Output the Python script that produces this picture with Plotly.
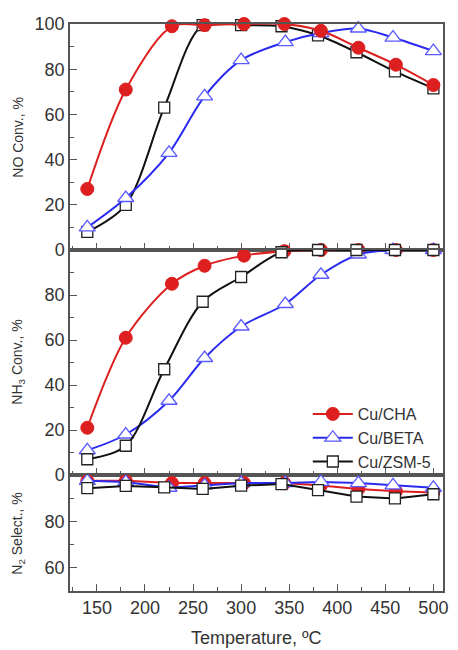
import plotly.graph_objects as go

# ---------------- data ----------------
temp_cha = [140, 180, 228, 262, 303, 345, 383, 422, 461, 500]
temp_beta = [140, 180, 225, 262, 300, 346, 383, 422, 458, 500]
temp_zsm = [140, 180, 220, 260, 300, 342, 380, 420, 460, 500]

no_cha = [27, 71, 99, 99.5, 100, 100, 97, 89.5, 82, 73]
no_beta = [10, 23, 43, 68, 84, 92, 96, 98, 94, 88]
no_zsm = [8, 20, 63, 99.5, 99.5, 99, 95, 87.5, 79, 71.5]

nh3_cha = [21, 61, 85, 93, 97.5, 99.5, 100, 100, 100, 100]
nh3_beta = [11, 18, 33, 52, 66, 76, 89, 98, 100, 100]
nh3_zsm = [7, 13, 47, 77, 88, 99, 100, 100, 100, 100]

n2_cha = [97.5, 97.5, 96.5, 96.5, 96.5, 96.5, 95.5, 94, 93, 92.5]
n2_beta = [97.5, 97, 94.5, 95.5, 96.5, 96.5, 97, 96.5, 95.5, 94.5]
n2_zsm = [94.3, 95.3, 94.7, 94, 95.4, 96.1, 93.5, 90.7, 89.9, 91.7]

names = ["Cu/CHA", "Cu/BETA", "Cu/ZSM-5"]
x_ticks = [150, 200, 250, 300, 350, 400, 450, 500]
y1_ticks = [0, 20, 40, 60, 80, 100]
y2_ticks = [0, 20, 40, 60, 80]
y3_ticks = [60, 80]

# ---------------- styles ----------------
RED = "#dd1f1f"
BLUE = "#2a2af0"
BLACK = "#111111"
FONT = "Arial, Liberation Sans, sans-serif"
TXT = "#333333"
AX = "#555555"

styles = {
    "Cu/CHA": dict(line=dict(color=RED, width=2),
                   marker=dict(symbol="circle", size=13, color=RED,
                               line=dict(color=RED, width=1))),
    "Cu/BETA": dict(line=dict(color=BLUE, width=2),
                    marker=dict(symbol="triangle-up", size=14, color="white",
                                line=dict(color="#5a5aff", width=1.3))),
    "Cu/ZSM-5": dict(line=dict(color=BLACK, width=2),
                     marker=dict(symbol="square", size=11, color="white",
                                 line=dict(color="#222222", width=1.3))),
}
xs = {"Cu/CHA": temp_cha, "Cu/BETA": temp_beta, "Cu/ZSM-5": temp_zsm}
rank = {"Cu/CHA": 1, "Cu/BETA": 2, "Cu/ZSM-5": 3}

panels = [
    ("y", {"Cu/CHA": no_cha, "Cu/BETA": no_beta, "Cu/ZSM-5": no_zsm},
     ["Cu/ZSM-5", "Cu/BETA", "Cu/CHA"], "spline", False),
    ("y2", {"Cu/CHA": nh3_cha, "Cu/BETA": nh3_beta, "Cu/ZSM-5": nh3_zsm},
     ["Cu/CHA", "Cu/BETA", "Cu/ZSM-5"], "spline", True),
    ("y3", {"Cu/CHA": n2_cha, "Cu/BETA": n2_beta, "Cu/ZSM-5": n2_zsm},
     ["Cu/CHA", "Cu/BETA", "Cu/ZSM-5"], "linear", False),
]

fig = go.Figure()
for yref, data, order, shape, show in panels:
    xref = "x" if yref == "y" else "x" + yref[1:]
    for nm in order:
        st = styles[nm]
        fig.add_trace(go.Scatter(
            x=xs[nm], y=data[nm], name=nm, mode="lines+markers",
            line=dict(color=st["line"]["color"], width=st["line"]["width"],
                      shape=shape, smoothing=0.9),
            marker=st["marker"], xaxis=xref, yaxis=yref,
            showlegend=show, legendrank=rank[nm], cliponaxis=False,
        ))

# plot area: x 70..448, y 24..591
common_x = dict(range=[122, 510], showline=True, linecolor=AX, linewidth=1.5,
                mirror=True, ticks="inside", ticklen=7, tickwidth=1.3,
                tickcolor=AX, tickvals=x_ticks, showgrid=False, zeroline=False,
                minor=dict(tickvals=[125, 175, 225, 275, 325, 375, 425, 475],
                           ticks="inside", ticklen=4, tickcolor=AX, tickwidth=1.3),
                tickfont=dict(family=FONT, size=18, color=TXT))
common_y = dict(showline=True, linecolor=AX, linewidth=1.5, mirror=True,
                ticks="inside", ticklen=7, tickwidth=1.3, tickcolor=AX,
                showgrid=False, zeroline=False,
                tickfont=dict(family=FONT, size=18, color=TXT))

d_top = (591 - 250) / 567
d_mid = (591 - 475) / 567

fig.update_layout(
    width=458, height=650,
    margin=dict(l=70, r=10, t=24, b=59),
    paper_bgcolor="white", plot_bgcolor="white",
    font=dict(family=FONT, color=TXT),
    xaxis=dict(common_x, anchor="y", domain=[0, 1], showticklabels=False),
    xaxis2=dict(common_x, anchor="y2", domain=[0, 1], showticklabels=False),
    xaxis3=dict(common_x, anchor="y3", domain=[0, 1], showticklabels=True),
    yaxis=dict(common_y, domain=[d_top, 1], range=[0, 100], tickvals=y1_ticks,
               minor=dict(tickvals=[10, 30, 50, 70, 90], ticks="inside",
                          ticklen=4, tickcolor=AX, tickwidth=1.3)),
    yaxis2=dict(common_y, domain=[d_mid, d_top], range=[0, 100], tickvals=y2_ticks,
                minor=dict(tickvals=[10, 30, 50, 70, 90], ticks="inside",
                           ticklen=4, tickcolor=AX, tickwidth=1.3)),
    yaxis3=dict(common_y, domain=[0, d_mid], range=[50, 100], tickvals=y3_ticks,
                minor=dict(tickvals=[70, 90], ticks="inside",
                           ticklen=4, tickcolor=AX, tickwidth=1.3)),
    legend=dict(x=(311 - 70) / 378, y=(591 - 397) / 567, xanchor="left",
                yanchor="top", bgcolor="rgba(0,0,0,0)", itemwidth=40,
                font=dict(family=FONT, size=16, color=TXT), tracegroupgap=0),
)

title_x = (17 - 70) / 378
for txt, ymid in [("NO Conv., %", 137), ("NH<sub>3</sub> Conv., %", 362),
                  ("N<sub>2</sub> Select., %", 533)]:
    fig.add_annotation(text=txt, xref="paper", yref="paper", x=title_x,
                       y=(591 - ymid) / 567, xanchor="center", yanchor="middle",
                       textangle=-90, showarrow=False,
                       font=dict(family=FONT, size=14, color=TXT))
fig.add_annotation(text="Temperature, ºC", xref="paper", yref="paper",
                   x=0.5, y=(591 - 638) / 567, xanchor="center", yanchor="middle",
                   showarrow=False, font=dict(family=FONT, size=18, color=TXT))

fig.write_html("out.html")
